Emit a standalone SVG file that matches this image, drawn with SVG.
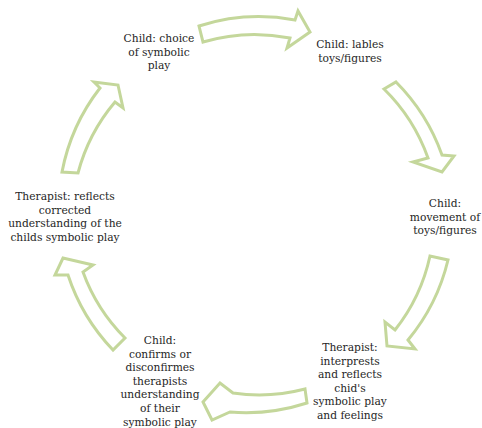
<svg xmlns="http://www.w3.org/2000/svg" width="482" height="428" viewBox="0 0 482 428">
<style>
.arr{fill:#ffffff;stroke:#C4D79B;stroke-width:3;stroke-linejoin:miter}
.t{font-family:"DejaVu Serif","Liberation Serif",serif;font-size:10.7px;fill:#262626;text-anchor:middle}
</style>
<rect width="482" height="428" fill="#ffffff"/>
<g id="connectors">
<path class="arr" d="M199,26 A197,197 0 0 1 295,20 L298,11 L310,32 L287,48 L290,38 A181,181 0 0 0 203,42 Z"/>
<path class="arr" d="M396,82 A197,197 0 0 1 442,155 L454,156 L442,172 L413,162 L428,158 A181,181 0 0 0 384,89 Z"/>
<path class="arr" d="M448,260 A197,197 0 0 1 408,340 L415,349 L387,346 L385,322 L395,330 A181,181 0 0 0 430,256 Z"/>
<path class="arr" d="M307,403 A197,197 0 0 1 230,412 L212,420 L203,402 L220,383 L233,393 A181,181 0 0 0 305,389 Z"/>
<path class="arr" d="M113,350 A197,197 0 0 1 68,275 L55,275 L63,258 L93,265 L83,272 A181,181 0 0 0 125,338 Z"/>
<path class="arr" d="M62,172 A197,197 0 0 1 100,88 L94,82 L118,85 L123,108 L115,102 A181,181 0 0 0 78,173 Z"/>
</g>
<g id="node1"><text class="t" x="159"><tspan x="159" y="42">Child: choice</tspan><tspan x="159" y="55.6">of symbolic</tspan><tspan x="159" y="69.2">play</tspan></text></g>
<g id="node2"><text class="t" x="350"><tspan x="350" y="48">Child: lables</tspan><tspan x="350" y="61.6">toys/figures</tspan></text></g>
<g id="node3"><text class="t" x="445"><tspan x="445" y="207">Child:</tspan><tspan x="445" y="220.6">movement of</tspan><tspan x="445" y="234.2">toys/figures</tspan></text></g>
<g id="node4"><text class="t" x="350"><tspan x="350" y="351">Therapist:</tspan><tspan x="350" y="364.6">interprests</tspan><tspan x="350" y="378.2">and reflects</tspan><tspan x="350" y="391.8">chid's</tspan><tspan x="350" y="405.4">symbolic play</tspan><tspan x="350" y="419">and feelings</tspan></text></g>
<g id="node5"><text class="t" x="160"><tspan x="160" y="344">Child:</tspan><tspan x="160" y="357.6">confirms or</tspan><tspan x="160" y="371.2">disconfirmes</tspan><tspan x="160" y="384.8">therapists</tspan><tspan x="160" y="398.4">understanding</tspan><tspan x="160" y="412">of their</tspan><tspan x="160" y="425.6">symbolic play</tspan></text></g>
<g id="node6"><text class="t" x="65"><tspan x="65" y="200">Therapist: reflects</tspan><tspan x="65" y="213.6">corrected</tspan><tspan x="65" y="227.2">understanding of the</tspan><tspan x="65" y="240.8">childs symbolic play</tspan></text></g>
</svg>
